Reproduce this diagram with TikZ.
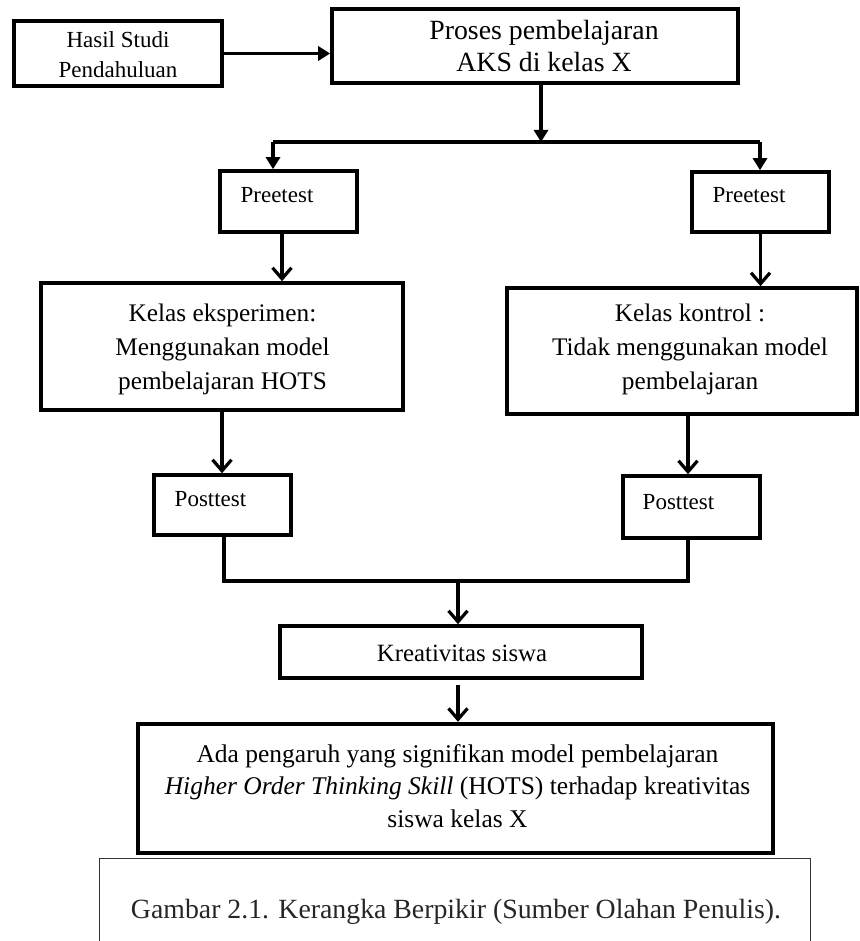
\documentclass[tikz,border=0pt]{standalone}
\usepackage{fontspec}
\setmainfont{Liberation Serif}
\usetikzlibrary{arrows.meta,calc}
\begin{document}
\begin{tikzpicture}[x=1pt,y=-1pt,
  box/.style={draw,line width=3.6pt,inner sep=0pt},
  txt/.style={inner sep=0pt,align=center},
  conn/.style={line width=3.6pt},
  tri/.style={conn,-{Triangle[length=12pt,width=14pt]}},
  barb/.style={conn,-{Straight Barb[length=11pt,width=19pt,line width=3.2pt]}},
  f23/.style={font=\fontsize{23}{30}\selectfont},
  f25/.style={font=\fontsize{25.3}{34}\selectfont},
  f28/.style={font=\fontsize{27.8}{32}\selectfont}]
\useasboundingbox (0,0) rectangle (859,941);
% boxes
\node[box,minimum width=208,minimum height=65] (hasil) at (118,53.5) {};
\node[txt,f23] (hasilT) at (118,55) {Hasil Studi\\Pendahuluan};
\node[box,minimum width=406,minimum height=74] (proses) at (535,46) {};
\node[txt,f28] (prosesT) at (544,46) {Proses pembelajaran\\AKS di kelas X};
\node[box,minimum width=137,minimum height=61] (pre1) at (288.5,201.5) {};
\node[txt,f23] (pre1T) at (277,195) {Preetest};
\node[box,minimum width=137,minimum height=60] (pre2) at (760.5,202) {};
\node[txt,f23] (pre2T) at (749,195) {Preetest};
\node[box,minimum width=362,minimum height=127] (eksp) at (222,346.5) {};
\node[txt,f25] (ekspT) at (222.5,349) {Kelas eksperimen:\\Menggunakan model\\pembelajaran HOTS};
\node[box,minimum width=350,minimum height=126] (kontrol) at (682,351) {};
\node[txt,f25] (kontrolT) at (690,349) {Kelas kontrol :\\Tidak menggunakan model\\pembelajaran};
\node[box,minimum width=137,minimum height=60] (post1) at (222.5,505) {};
\node[txt,f23] (post1T) at (210.5,499) {Posttest};
\node[box,minimum width=137,minimum height=62] (post2) at (691.5,507) {};
\node[txt,f23] (post2T) at (678.5,502) {Posttest};
\node[box,minimum width=362,minimum height=52] (kreat) at (461,652) {};
\node[txt,font=\fontsize{24.8}{30}\selectfont] (kreatT) at (462,653) {Kreativitas siswa};
\node[box,line width=4.4pt,minimum width=635,minimum height=129] (final) at (455.5,788.5) {};
\node[txt,font=\fontsize{25.5}{32.5}\selectfont] (finalT) at (457.5,786) {Ada pengaruh yang signifikan model pembelajaran\\\textit{Higher Order Thinking Skill} (HOTS) terhadap kreativitas\\siswa kelas X};
% caption frame
\draw[line width=1pt,black!80] (99,950) -- (99,858) -- (810,858) -- (810,950);
\node[txt,font=\fontsize{27.8}{32}\selectfont,text=black!85] (capT) at (456,912) {Gambar 2.1. Kerangka Berpikir (Sumber Olahan Penulis).};
% junction coordinates
\coordinate (splitM) at (541,142);
\coordinate (splitL) at (273,142);
\coordinate (splitR) at (760,142);
\coordinate (joinL) at (224,581);
\coordinate (joinR) at (688,581);
\coordinate (joinM) at (458,581);
\coordinate (xE) at (282,0);
\coordinate (xK) at (688,0);
% connectors
\draw[tri] (hasil.east) -- (hasil.east -| proses.west);
\draw[tri] (proses.south -| splitM) -- (splitM);
\draw[conn] (splitL) -- (splitR);
\draw[tri] (splitL) -- (splitL |- pre1.north);
\draw[tri] (splitR) -- (splitR |- pre2.north);
\draw[barb] (pre1.south -| xE) -- (eksp.north -| xE);
\draw[barb] (pre2.south) -- (pre2.south |- kontrol.north);
\draw[barb] (eksp.south) -- (eksp.south |- post1.north);
\draw[barb] (kontrol.south -| xK) -- (post2.north -| xK);
\draw[conn] (post1.south -| joinL) -- (joinL) -- (joinR) -- (post2.south -| joinR);
\draw[barb] (joinM) -- (joinM |- kreat.north);
\draw[barb] ($(kreat.south -| joinM)+(0,5)$) -- (joinM |- final.north);
\end{tikzpicture}
\end{document}
